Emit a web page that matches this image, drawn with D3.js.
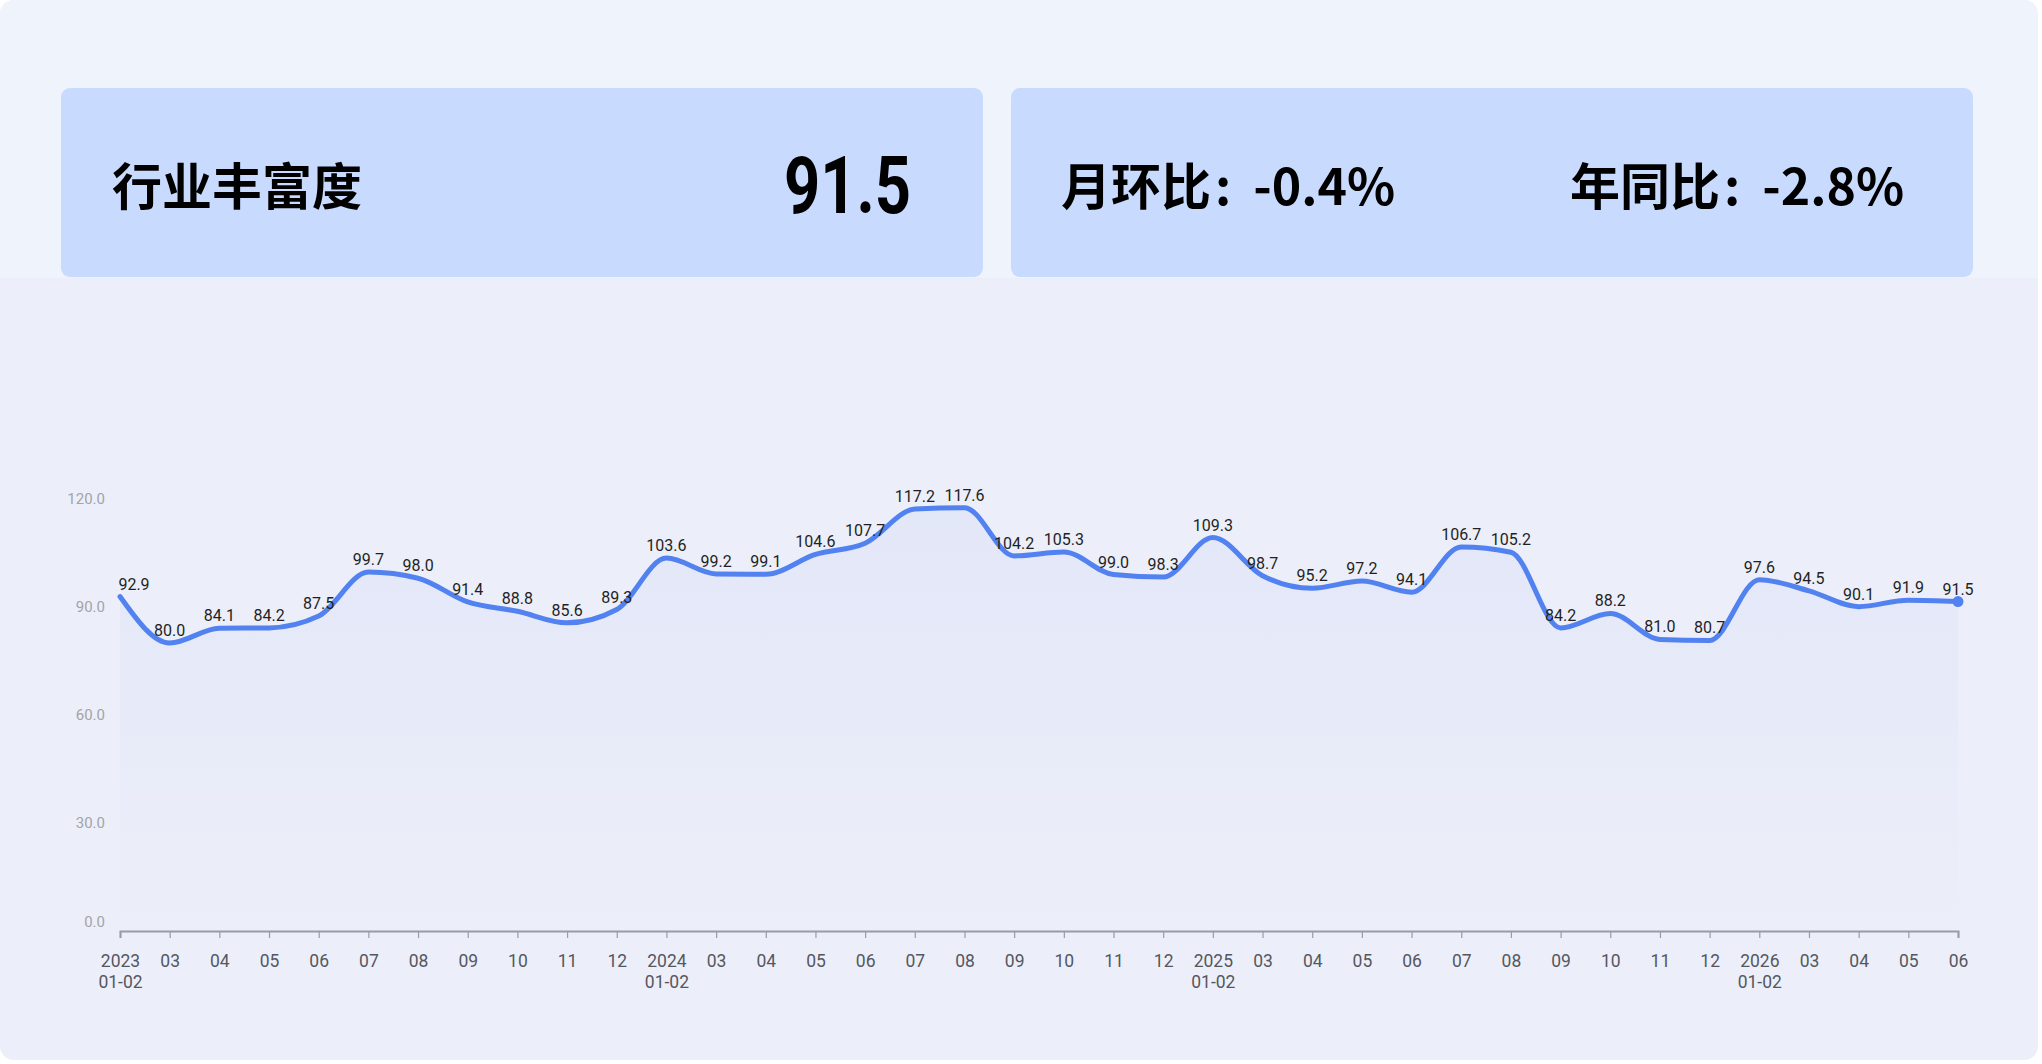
<!DOCTYPE html>
<html>
<head>
<meta charset="utf-8">
<script src="https://cdn.jsdelivr.net/npm/d3@7"></script>
<style>
  html, body { margin: 0; padding: 0; background: #ffffff; }
  svg { display: block; }
</style>
</head>
<body>
<div id="chart"></div>
<script>
// month labels (two lines where a year starts)
const months = [
  "2023\n01-02", "03", "04", "05", "06", "07", "08", "09", "10", "11", "12",
  "2024\n01-02", "03", "04", "05", "06", "07", "08", "09", "10", "11", "12",
  "2025\n01-02", "03", "04", "05", "06", "07", "08", "09", "10", "11", "12",
  "2026\n01-02", "03", "04", "05", "06"
];
const values = [
  92.9, 80.0, 84.1, 84.2, 87.5, 99.7, 98.0, 91.4, 88.8, 85.6, 89.3,
  103.6, 99.2, 99.1, 104.6, 107.7, 117.2, 117.6, 104.2, 105.3, 99.0, 98.3,
  109.3, 98.7, 95.2, 97.2, 94.1, 106.7, 105.2, 84.2, 88.2, 81.0, 80.7,
  97.6, 94.5, 90.1, 91.9, 91.5
];
const yTicks = [0, 30, 60, 90, 120];

const kpiTitle = "行业丰富度";
const kpiValue = "91.5";
const momLabel = "月环比";
const momValue = "-0.4%";
const yoyLabel = "年同比";
const yoyValue = "-2.8%";

const W = 2042, H = 1064;
const svg = d3.select("#chart").append("svg")
  .attr("width", W).attr("height", H);

const defs = svg.append("defs");
const grad = defs.append("linearGradient")
  .attr("id", "areaGrad").attr("x1", 0).attr("y1", 0).attr("x2", 0).attr("y2", 1);
grad.append("stop").attr("offset", "0%").attr("stop-color", "#6478e6").attr("stop-opacity", 0.07);
grad.append("stop").attr("offset", "100%").attr("stop-color", "#6478e6").attr("stop-opacity", 0.0);

// card background
defs.append("clipPath").attr("id", "cardClip")
  .append("rect").attr("width", 2038).attr("height", 1060).attr("rx", 14);
const card = svg.append("g").attr("clip-path", "url(#cardClip)");
card.append("rect").attr("width", 2038).attr("height", 1060).attr("fill", "#eceff9");
card.append("rect").attr("width", 2038).attr("height", 278).attr("fill", "#eff3fb");

// KPI boxes
svg.append("rect").attr("x", 61).attr("y", 88).attr("width", 922).attr("height", 189)
  .attr("rx", 9).attr("fill", "#c8dafd");
svg.append("rect").attr("x", 1011).attr("y", 88).attr("width", 962).attr("height", 189)
  .attr("rx", 9).attr("fill", "#c8dafd");

const cjk = "'Noto Sans CJK SC', 'Noto Sans', sans-serif";

svg.append("text").attr("x", 112).attr("y", 205)
  .attr("font-family", cjk).attr("font-weight", 700).attr("font-size", 50)
  .attr("fill", "#000").text(kpiTitle);

svg.append("g").attr("transform", "translate(911,213) scale(0.8,1)")
  .append("text").attr("text-anchor", "end")
  .attr("font-family", "Roboto, sans-serif").attr("font-weight", 700).attr("font-size", 79)
  .attr("fill", "#000").text(kpiValue);

function ratio(x, label, val) {
  const t = svg.append("text").attr("x", x).attr("y", 205)
    .attr("font-family", cjk).attr("font-weight", 700).attr("font-size", 50)
    .attr("fill", "#000");
  t.append("tspan").text(label);
  t.append("tspan").attr("dx", 4).text(":");
  t.append("tspan").attr("dx", 22).text(val);
}
ratio(1061, momLabel, momValue);
ratio(1570, yoyLabel, yoyValue);

// chart
const x = d3.scalePoint().domain(d3.range(values.length)).range([120, 1958]);
const y = d3.scaleLinear().domain([0, 120]).range([931, 499]);

const area = d3.area().x((d, i) => x(i)).y0(y(0)).y1(d => y(d)).curve(d3.curveMonotoneX);
const line = d3.line().x((d, i) => x(i)).y(d => y(d)).curve(d3.curveMonotoneX);

svg.append("path").datum(values).attr("d", area).attr("fill", "url(#areaGrad)");

// y axis
const yAxis = svg.append("g").attr("transform", "translate(120,0)")
  .call(d3.axisLeft(y).tickValues(yTicks).tickFormat(d3.format(".1f")).tickSize(0).tickPadding(15));
yAxis.select(".domain").remove();
yAxis.selectAll("text")
  .attr("font-family", "Roboto, sans-serif").attr("font-size", 15).attr("fill", "#a3a3a8")
  .attr("dy", d => d === 0 ? "-0.28em" : "0.32em");

// x axis
const xAxis = svg.append("g").attr("transform", `translate(0,${y(0)})`)
  .call(d3.axisBottom(x).tickSize(7).tickPadding(17).tickFormat(""));
xAxis.select(".domain").attr("stroke", "#9a9ca4").attr("stroke-width", 2);
xAxis.selectAll(".tick line").attr("stroke", "#9a9ca4").attr("stroke-width", 1.2);
xAxis.selectAll(".tick text").each(function(i) {
  const parts = months[i].split("\n");
  const t = d3.select(this)
    .attr("font-family", "Roboto, sans-serif").attr("font-size", 17.5).attr("fill", "#55575f");
  t.text(null);
  parts.forEach((p, k) => {
    t.append("tspan").attr("x", 0).attr("dy", k === 0 ? "0.71em" : "1.2em").text(p);
  });
});

svg.append("path").datum(values).attr("d", line)
  .attr("fill", "none").attr("stroke", "#5282f0").attr("stroke-width", 5)
  .attr("stroke-linejoin", "round").attr("stroke-linecap", "round");

svg.append("circle").attr("cx", x(values.length - 1)).attr("cy", y(values[values.length - 1]))
  .attr("r", 5.5).attr("fill", "#5282f0");

svg.append("g").selectAll("text").data(values).join("text")
  .attr("x", (d, i) => x(i) + (i === 0 ? 14 : 0))
  .attr("y", d => y(d) - 7)
  .attr("text-anchor", "middle")
  .attr("font-family", "Roboto, sans-serif").attr("font-size", 16)
  .attr("fill", "#1f1f24")
  .text(d => d3.format(".1f")(d));
</script>
</body>
</html>
